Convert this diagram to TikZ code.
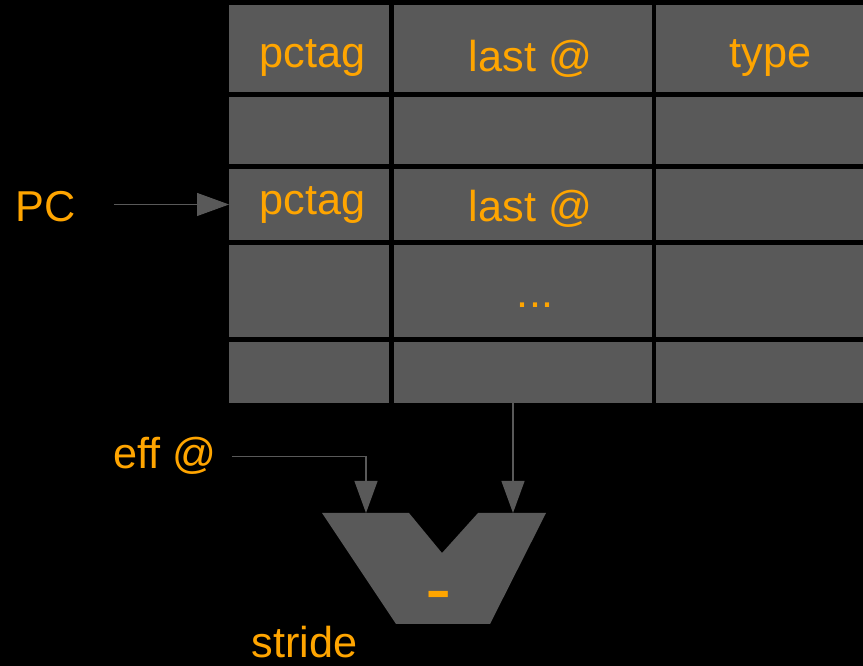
\documentclass[tikz,border=0pt]{standalone}
\usepackage{fontspec}
\setmainfont{Liberation Sans}
\usetikzlibrary{arrows.meta}

\definecolor{tablegray}{RGB}{89,89,89}
\definecolor{labelorange}{RGB}{255,165,0}

\tikzstyle{cell} = [fill=tablegray, rectangle, inner sep=0, outer sep=0]
\tikzstyle{celltext} = [text=labelorange, inner sep=0, anchor=base,
  font=\fontsize{24.6}{29}\selectfont]
\tikzstyle{wire} = [draw=tablegray, line width=0.6pt,
  -{Triangle[length=0.64cm, width=0.46cm]}]
\tikzstyle{subtractor} = [fill=tablegray]

\begin{document}
\begin{tikzpicture}
        \fill[black] (0,0) rectangle (17.26,-13.32);

        \foreach \row/\y/\h in {1/0.97/1.74, 2/2.61/1.34, 3/4.09/1.42, 4/5.82/1.84, 5/7.45/1.22}
          \foreach \col/\x/\w in {1/6.18/3.20, 2/10.46/5.16, 3/15.19/4.14}
            \node [cell, minimum width=\w cm, minimum height=\h cm] (cell\row\col) at (\x,-\y) {};

        \node [celltext] (pctag1)  at ( 6.25, -1.36) {pctag};
        \node [celltext] (last1)   at (10.61, -1.44) {last @};
        \node [celltext] (type)    at (15.41, -1.36) {type};
        \node [celltext] (pctag3)  at ( 6.25, -4.30) {pctag};
        \node [celltext] (last3)   at (10.61, -4.44) {last @};
        \node [celltext] (dots)    at (10.70, -6.15) {...};
        \node [celltext] (pc)      at ( 0.91, -4.44) {PC};
        \node [celltext] (effaddr) at ( 3.30, -9.38) {eff @};
        \node [celltext] (stride)  at ( 6.09,-13.16) {stride};

        \fill [subtractor] (6.44,-10.26) -- (8.18,-10.26) -- (8.84,-11.06) -- (9.56,-10.26)
          -- (10.92,-10.26) -- (9.80,-12.48) -- (7.92,-12.48) -- cycle;
        \coordinate (ina) at ( 7.32,-10.26);
        \coordinate (inb) at (10.26,-10.26);
        \node [celltext, font=\fontsize{45}{50}\selectfont] (minus) at (8.78,-12.31) {-};

        \draw [wire, shorten <=0.76cm] (cell31.west -| pc.east) -- (cell31.west);
        \draw [wire, shorten <=0.30cm] (effaddr.east) -| (ina);
        \draw [wire] (cell52.south -| inb) -- (inb);
\end{tikzpicture}
\end{document}
